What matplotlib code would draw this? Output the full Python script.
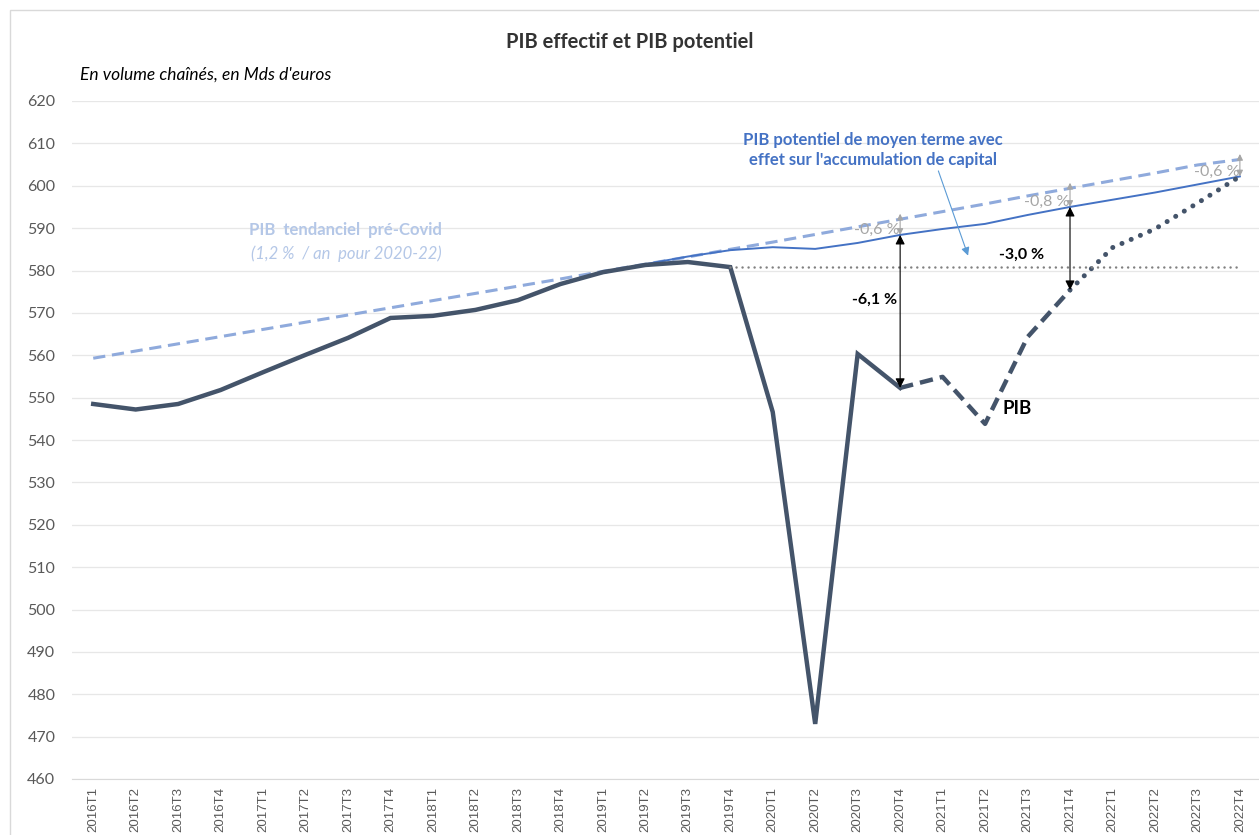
import matplotlib.pyplot as plt
from matplotlib.patches import Rectangle

plt.rcParams["font.family"] = ["Lato", "DejaVu Sans"]

quarters = [f"{y}T{q}" for y in range(2016, 2023) for q in range(1, 5)]

# PIB observé (Mds d'euros) 2016T1 -> 2020T4
pib_obs = [548.5, 547.2, 548.5, 551.8, 556.0, 560.1, 564.1, 568.8, 569.3, 570.7,
           573.0, 576.8, 579.6, 581.3, 582.0, 580.8, 546.6, 473.0, 560.3, 552.3]
# PIB prévu (tirets) 2020T4 -> 2021T4
pib_prev = [552.3, 554.9, 543.8, 564.3, 575.4]
# PIB projection (pointillés) 2021T4 -> 2022T4
pib_proj = [575.4, 585.4, 589.8, 595.9, 602.2]
# PIB potentiel de moyen terme 2019T1 -> 2022T4
potentiel = [579.4, 581.5, 583.3, 584.8, 585.5, 585.1, 586.5, 588.4, 589.8, 591.0,
             593.1, 595.0, 596.7, 598.4, 600.3, 602.2]
# PIB tendanciel pré-Covid 2016T1 -> 2022T4
tendanciel = [559.3, 561.0, 562.7, 564.4, 566.1, 567.8, 569.5, 571.2, 572.9, 574.6,
              576.3, 578.0, 579.8, 581.5, 583.2, 585.0, 586.7, 588.5, 590.3, 592.1,
              593.9, 595.7, 597.6, 599.4, 601.2, 603.0, 604.9, 606.2]
niveau_2019 = 580.8

i_obs = list(range(0, 20))
i_prev = list(range(19, 24))
i_proj = list(range(23, 28))
i_pot = list(range(12, 28))
i_tend = list(range(0, 28))

dark = "#44546A"
blue = "#4472C4"
light_blue = "#8FAADC"
grey = "#A6A6A6"

fig = plt.figure(figsize=(12.59, 8.35), dpi=100)
ax = fig.add_axes([72 / 1259, 56 / 835, 1187 / 1259, 678 / 835])

ax.plot(i_tend, tendanciel, color=light_blue, lw=2.2, dashes=(4, 2.2))
ax.plot(i_pot, potentiel, color=blue, lw=1.4)
ax.plot(i_obs, pib_obs, color=dark, lw=3.2, solid_joinstyle="miter")
ax.plot(i_prev, pib_prev, color=dark, lw=3.2, dashes=(3, 1.6))
ax.plot(i_proj, pib_proj, color=dark, lw=3.6, dashes=(0.01, 2.0), dash_capstyle="round")
ax.plot([15, 27], [niveau_2019, niveau_2019], color="#808080", lw=1.8,
        dashes=(0.01, 2.4), dash_capstyle="round")

# ecarts PIB / potentiel
ecarts = [(19, potentiel[7], pib_prev[0], "-6,1 %", 0.08, 573.0),
          (23, potentiel[11], pib_proj[0], "-3,0 %", 0.62, 583.8)]
for x, top, bottom, label, dx, ylab in ecarts:
    ax.annotate("", xy=(x, bottom), xytext=(x, top),
                arrowprops=dict(arrowstyle="<|-|>", color="black", lw=0.8,
                                mutation_scale=14, shrinkA=0, shrinkB=0))
    ax.text(x - dx, ylab, label, ha="right", va="center", fontsize=11.5,
            fontweight="bold", color="black")

# ecarts potentiel / tendanciel
for x, lab in [(19, "-0,6 %"), (23, "-0,8 %"), (27, "-0,6 %")]:
    top = tendanciel[x] + 1.3
    bottom = potentiel[x - 12]
    ax.annotate("", xy=(x, bottom), xytext=(x, top),
                arrowprops=dict(arrowstyle="<|-|>", color=grey, lw=0.8,
                                mutation_scale=9, shrinkA=0, shrinkB=0))
    ax.text(x - 0.02, bottom + 1.1, lab, ha="right", va="center",
            fontsize=11.5, color=grey)

ax.annotate("", xy=(20.6, 583.5), xytext=(19.9, 603.5),
            arrowprops=dict(arrowstyle="-|>", color="#5B9BD5", lw=0.8,
                            mutation_scale=12, shrinkA=0, shrinkB=0))
ax.text(18.35, 608.5, "PIB potentiel de moyen terme avec\neffet sur l'accumulation de capital",
        ha="center", va="center", fontsize=12, fontweight="bold", color=blue,
        linespacing=1.3)
ax.text(5.95, 589.5, "PIB  tendanciel  pré-Covid", ha="center", va="center",
        fontsize=12, fontweight="bold", color="#B4C7E7")
ax.text(5.95, 584.0, "(1,2 %  / an  pour 2020-22)", ha="center", va="center",
        fontsize=12, style="italic", color="#B4C7E7")
ax.text(21.42, 547.5, "PIB", ha="left", va="center", fontsize=13.5,
        fontweight="bold", color="black")

ax.set_xlim(-0.5, 27.45)
ax.set_ylim(460, 620)
ax.set_yticks(range(460, 621, 10))
ax.set_xticks(range(len(quarters)))
ax.set_xticklabels(quarters, rotation=90, fontsize=9.5, color="#595959",
                   family=["Liberation Sans", "DejaVu Sans"])
ax.tick_params(axis="y", labelsize=11.5, labelcolor="#595959", length=0, pad=12)
ax.tick_params(axis="x", length=0, pad=6)
ax.grid(axis="y", color="#E7E7E7", lw=0.9)
ax.set_axisbelow(True)
for side in ["top", "right", "left"]:
    ax.spines[side].set_visible(False)
ax.spines["bottom"].set_color("#D9D9D9")

fig.text(630 / 1259, 1 - 42 / 835, "PIB effectif et PIB potentiel", ha="center",
         va="center", fontsize=14.5, fontweight="bold", color="#333333")
fig.text(80 / 1259, 1 - 75 / 835, "En volume chaînés, en Mds d'euros", ha="left",
         va="center", fontsize=12.5, style="italic", color="black")

fig.patches.append(Rectangle((10 / 1259, -0.1), 1.2, 1 - 10 / 835 + 0.1,
                             transform=fig.transFigure, fill=False,
                             edgecolor="#D9D9D9", lw=1))

fig.savefig("out.png", dpi=100)
